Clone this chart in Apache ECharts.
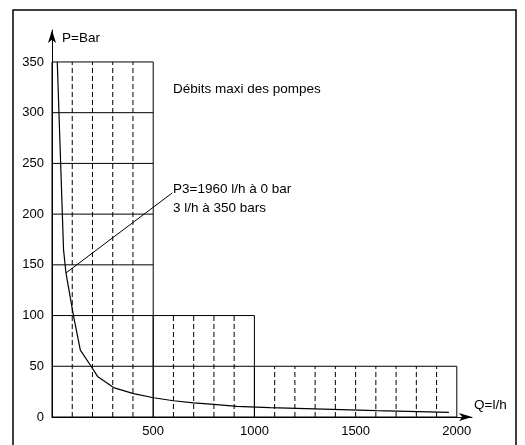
<!DOCTYPE html>
<html>
<head>
<meta charset="utf-8">
<script src="https://cdn.jsdelivr.net/npm/echarts@6/dist/echarts.min.js"></script>
<style>
html,body{margin:0;padding:0;background:#fff}
#main{width:525px;height:445px}
</style>
</head>
<body>
<div id="main"></div>
<script>
// courbe debit / pression des pompes
var xTicks = [500, 1000, 1500, 2000];
var yTicks = [0, 50, 100, 150, 200, 250, 300, 350];

// zones : debut, fin, pression maxi
var boxStart = [0, 500, 1000];
var boxEnd = [500, 1000, 2000];
var boxTop = [350, 100, 50];
var boxLevels = [[50, 100, 150, 200, 250, 300], [50], []];
var boxDashes = [[100, 200, 300, 400], [600, 700, 800, 900], [1100, 1200, 1300, 1400, 1500, 1600, 1700, 1800, 1900]];

// courbe P3
var curveQ = [26, 57, 69, 107, 140, 190, 225, 304, 403, 502, 600, 700, 800, 913, 1077, 1604, 1961];
var curveP = [350, 165, 142, 99, 66, 51, 40, 29, 23, 19, 16, 14, 12.5, 10.5, 9.2, 6.2, 4.6];

// trait de rappel vers le texte
var leaderQ = [69, 595];
var leaderP = [142, 221];

var font = 'Liberation Sans, Arial, sans-serif';

var boxData = [];
for (var i = 0; i < boxStart.length; i++) {
    boxData.push([boxStart[i], boxEnd[i], boxTop[i]]);
}
var curveData = [];
for (var i = 0; i < curveQ.length; i++) {
    curveData.push([curveQ[i], curveP[i]]);
}
var leaderData = [];
for (var i = 0; i < leaderQ.length; i++) {
    leaderData.push([leaderQ[i], leaderP[i]]);
}

function renderBox(params, api) {
    var idx = params.dataIndex;
    var p0 = api.coord([api.value(0), 0]);
    var p1 = api.coord([api.value(1), api.value(2)]);
    var children = [];
    children.push({
        type: 'rect',
        shape: {x: p0[0], y: p1[1], width: p1[0] - p0[0], height: p0[1] - p1[1]},
        style: {fill: 'none', stroke: '#000', lineWidth: 1}
    });
    boxLevels[idx].forEach(function (lv) {
        var y = api.coord([0, lv])[1];
        children.push({
            type: 'line',
            shape: {x1: p0[0], y1: y, x2: p1[0], y2: y},
            style: {stroke: '#000', lineWidth: 1}
        });
    });
    boxDashes[idx].forEach(function (q) {
        var x = api.coord([q, 0])[0];
        children.push({
            type: 'line',
            shape: {x1: x, y1: p0[1], x2: x, y2: p1[1]},
            style: {stroke: '#000', lineWidth: 1, lineDash: [5, 3]}
        });
    });
    return {type: 'group', children: children};
}

var chart = echarts.init(document.getElementById('main'));
chart.setOption({
    backgroundColor: '#fff',
    animation: false,
    grid: {left: 52, right: 53, top: 30, bottom: 28},
    xAxis: {
        type: 'value', min: 0, max: 2075, interval: 500,
        axisLine: {show: true, symbol: ['none', 'arrow'], symbolSize: [6, 13], lineStyle: {color: '#000', width: 1}},
        axisTick: {show: false},
        splitLine: {show: false},
        axisLabel: {
            color: '#000', fontSize: 13, fontFamily: font, margin: 8,
            formatter: function (v) { return xTicks.indexOf(v) >= 0 ? String(v) : ''; }
        }
    },
    yAxis: {
        type: 'value', min: 0, max: 381.5, interval: 50,
        axisLine: {show: true, symbol: ['none', 'arrow'], symbolSize: [6, 13], lineStyle: {color: '#000', width: 1}},
        axisTick: {show: false},
        splitLine: {show: false},
        axisLabel: {
            color: '#000', fontSize: 13, fontFamily: font, margin: 8, padding: [0, 0, 8, 0],
            formatter: function (v) { return yTicks.indexOf(v) >= 0 ? String(v) : ''; }
        }
    },
    graphic: [
        {type: 'rect', shape: {x: 13, y: 10, width: 503, height: 460}, style: {fill: 'none', stroke: '#000', lineWidth: 1.5}, silent: true},
        {type: 'text', left: 62, top: 31, style: {text: 'P=Bar', fill: '#000', font: '13.5px ' + font}},
        {type: 'text', left: 474, top: 398, style: {text: 'Q=l/h', fill: '#000', font: '13.5px ' + font}},
        {type: 'text', left: 173, top: 82, style: {text: 'Débits maxi des pompes', fill: '#000', font: '13.5px ' + font}},
        {type: 'text', left: 173, top: 182, style: {text: 'P3=1960 l/h à 0 bar', fill: '#000', font: '13.5px ' + font}},
        {type: 'text', left: 173, top: 201, style: {text: '3 l/h à 350 bars', fill: '#000', font: '13.5px ' + font}}
    ],
    series: [
        {
            type: 'custom', renderItem: renderBox, data: boxData, silent: true, z: 1,
            encode: {x: [0, 1], y: 2}
        },
        {
            type: 'line', data: curveData, symbol: 'none', smooth: false, z: 3,
            lineStyle: {color: '#000', width: 1.2}
        },
        {
            type: 'line', data: leaderData, symbol: 'none', z: 3,
            lineStyle: {color: '#000', width: 1}
        }
    ]
});
</script>
</body>
</html>
